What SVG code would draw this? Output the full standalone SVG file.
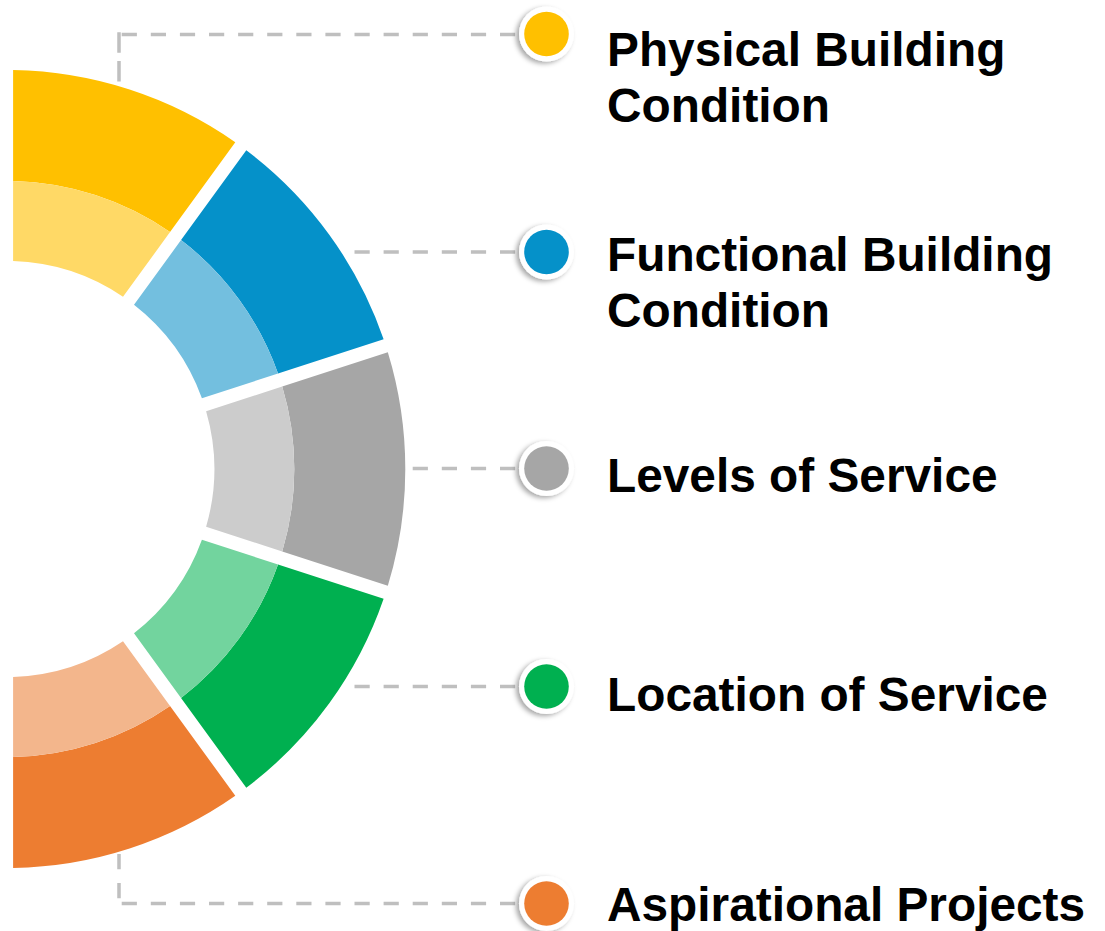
<svg xmlns="http://www.w3.org/2000/svg" width="1105" height="931" viewBox="0 0 1105 931">
  <style>
    .lead { fill: none; stroke: #BFBFBF; stroke-width: 3.5; }
    .dash { stroke-dasharray: 15.2 13.9; }
    .label { font-family: "Liberation Sans", Arial, sans-serif; font-weight: bold; font-size: 47.8px; fill: #000000; }
    .halo { fill: #FFFFFF; filter: url(#shadow); }
  </style>
  <defs>
    <filter id="shadow" x="-50%" y="-50%" width="200%" height="200%">
      <feDropShadow dx="-3" dy="2" stdDeviation="2.5" flood-color="#000000" flood-opacity="0.35"/>
    </filter>
  </defs>
  <rect width="1105" height="931" fill="#FFFFFF"/>

  <!-- dashed leader lines from the ring to the markers -->
  <g id="connectors">
    <line class="lead" x1="119" y1="32.3" x2="119" y2="90" stroke-dasharray="20.4 8.3"/>
    <line class="lead dash" x1="121.7" y1="34.5" x2="525" y2="34.5"/>
    <line class="lead dash" x1="354.5" y1="252" x2="525" y2="252"/>
    <line class="lead dash" x1="412.7" y1="468.5" x2="525" y2="468.5"/>
    <line class="lead dash" x1="354.5" y1="686.5" x2="525" y2="686.5"/>
    <line class="lead dash" x1="119" y1="898.3" x2="119" y2="840"/>
    <line class="lead dash" x1="121.7" y1="903.5" x2="525" y2="903.5"/>
  </g>

  <g id="node-physical">
    <path fill="#FFC000" d="M13.1,70.06 A399,399 0 0 1 235.29,142.25 L170.04,232.07 A288,288 0 0 0 13.1,181.08 Z"/>
    <path fill="#FFD966" d="M13.1,181.08 A288,288 0 0 1 170.04,232.07 L123.0,296.81 A208,208 0 0 0 13.1,261.11 Z"/>
    <circle class="halo" cx="546.5" cy="34" r="27.5"/>
    <circle fill="#FFC000" cx="546.5" cy="34" r="22.3"/>
    <text class="label" x="607" y="66">Physical Building</text>
    <text class="label" x="607" y="122">Condition</text>
  </g>

  <g id="node-functional">
    <path fill="#0591C9" d="M246.29,150.25 A399,399 0 0 1 383.62,339.25 L278.03,373.56 A288,288 0 0 0 181.04,240.07 Z"/>
    <path fill="#73BFDF" d="M181.04,240.07 A288,288 0 0 1 278.03,373.56 L201.92,398.29 A208,208 0 0 0 134.0,304.81 Z"/>
    <circle class="halo" cx="546.5" cy="252" r="27.5"/>
    <circle fill="#0591C9" cx="546.5" cy="252" r="22.3"/>
    <text class="label" x="607" y="271">Functional Building</text>
    <text class="label" x="607" y="327">Condition</text>
  </g>

  <g id="node-levels">
    <path fill="#A6A6A6" d="M387.82,352.19 A399,399 0 0 1 387.82,585.81 L282.23,551.50 A288,288 0 0 0 282.23,386.50 Z"/>
    <path fill="#CCCCCC" d="M282.23,386.50 A288,288 0 0 1 282.23,551.50 L206.12,526.77 A208,208 0 0 0 206.12,411.23 Z"/>
    <circle class="halo" cx="546.5" cy="468.5" r="27.5"/>
    <circle fill="#A6A6A6" cx="546.5" cy="468.5" r="22.3"/>
    <text class="label" x="607" y="492">Levels of Service</text>
  </g>

  <g id="node-location">
    <path fill="#00B050" d="M383.62,598.75 A399,399 0 0 1 246.29,787.75 L181.04,697.93 A288,288 0 0 0 278.03,564.44 Z"/>
    <path fill="#72D49E" d="M278.03,564.44 A288,288 0 0 1 181.04,697.93 L134.0,633.19 A208,208 0 0 0 201.92,539.71 Z"/>
    <circle class="halo" cx="546.5" cy="686.5" r="27.5"/>
    <circle fill="#00B050" cx="546.5" cy="686.5" r="22.3"/>
    <text class="label" x="607" y="711">Location of Service</text>
  </g>

  <g id="node-aspirational">
    <path fill="#ED7D31" d="M235.29,795.75 A399,399 0 0 1 13.1,867.94 L13.1,756.92 A288,288 0 0 0 170.04,705.93 Z"/>
    <path fill="#F3B68C" d="M170.04,705.93 A288,288 0 0 1 13.1,756.92 L13.1,676.89 A208,208 0 0 0 123.0,641.19 Z"/>
    <circle class="halo" cx="546.5" cy="903.5" r="27.5"/>
    <circle fill="#ED7D31" cx="546.5" cy="903.5" r="22.3"/>
    <text class="label" x="607" y="921">Aspirational Projects</text>
  </g>
</svg>
